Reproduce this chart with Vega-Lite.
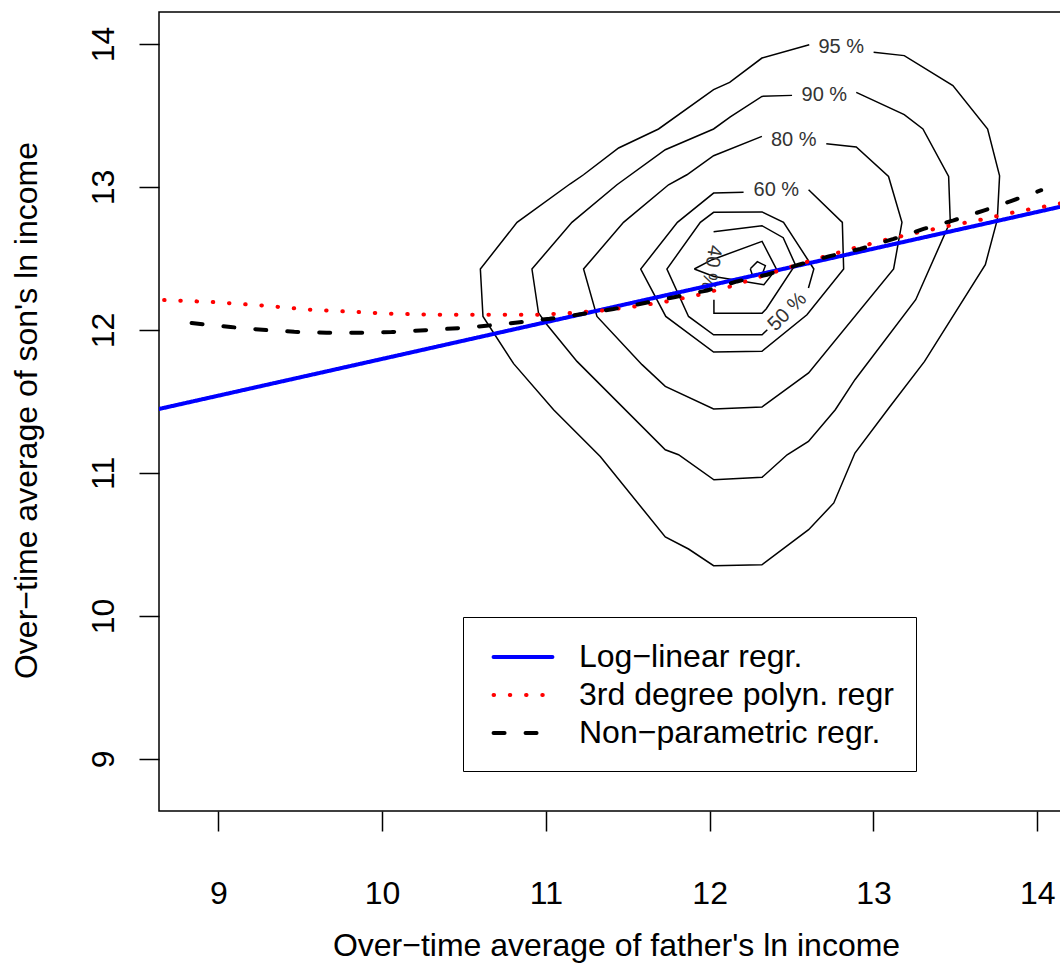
{
  "$schema": "https://vega.github.io/schema/vega-lite/v6.json",
  "width": 902,
  "height": 799,
  "autosize": {"type": "none"},
  "padding": {"left": 159, "top": 12, "right": 0, "bottom": 154},
  "background": "white",
  "config": {
    "view": {"stroke": "black", "strokeWidth": 1.5},
    "font": "Liberation Sans",
    "axis": {
      "grid": false, "domain": false, "ticks": true,
      "tickColor": "black", "tickWidth": 1.5, "tickSize": 20,
      "labelFont": "Liberation Sans", "labelFontSize": 32, "labelColor": "black",
      "titleFont": "Liberation Sans", "titleFontSize": 32, "titleFontWeight": "normal", "titleColor": "black",
      "labelOverlap": false, "labelFlush": false
    }
  },
  "datasets": {
    "contours": [
      {"seg": "c95", "o": 1, "x": 13.001, "y": 13.941},
      {"seg": "c95", "o": 2, "x": 13.188, "y": 13.918},
      {"seg": "c95", "o": 3, "x": 13.485, "y": 13.708},
      {"seg": "c95", "o": 4, "x": 13.697, "y": 13.405},
      {"seg": "c95", "o": 5, "x": 13.770, "y": 13.078},
      {"seg": "c95", "o": 6, "x": 13.756, "y": 12.771},
      {"seg": "c95", "o": 7, "x": 13.683, "y": 12.456},
      {"seg": "c95", "o": 8, "x": 13.312, "y": 11.780},
      {"seg": "c95", "o": 9, "x": 13.094, "y": 11.454},
      {"seg": "c95", "o": 10, "x": 12.887, "y": 11.139},
      {"seg": "c95", "o": 11, "x": 12.758, "y": 10.790},
      {"seg": "c95", "o": 12, "x": 12.604, "y": 10.603},
      {"seg": "c95", "o": 13, "x": 12.319, "y": 10.358},
      {"seg": "c95", "o": 14, "x": 12.024, "y": 10.351},
      {"seg": "c95", "o": 15, "x": 11.871, "y": 10.468},
      {"seg": "c95", "o": 16, "x": 11.729, "y": 10.552},
      {"seg": "c95", "o": 17, "x": 11.332, "y": 11.115},
      {"seg": "c95", "o": 18, "x": 11.047, "y": 11.442},
      {"seg": "c95", "o": 19, "x": 10.803, "y": 11.764},
      {"seg": "c95", "o": 20, "x": 10.616, "y": 12.094},
      {"seg": "c95", "o": 21, "x": 10.600, "y": 12.426},
      {"seg": "c95", "o": 22, "x": 10.824, "y": 12.752},
      {"seg": "c95", "o": 23, "x": 11.149, "y": 13.022},
      {"seg": "c95", "o": 24, "x": 11.230, "y": 13.085},
      {"seg": "c95", "o": 25, "x": 11.444, "y": 13.272},
      {"seg": "c95", "o": 26, "x": 11.688, "y": 13.405},
      {"seg": "c95", "o": 27, "x": 12.024, "y": 13.680},
      {"seg": "c95", "o": 28, "x": 12.122, "y": 13.731},
      {"seg": "c95", "o": 29, "x": 12.319, "y": 13.901},
      {"seg": "c95", "o": 30, "x": 12.608, "y": 13.994},

      {"seg": "c90", "o": 1, "x": 12.895, "y": 13.661},
      {"seg": "c90", "o": 2, "x": 13.188, "y": 13.505},
      {"seg": "c90", "o": 3, "x": 13.302, "y": 13.405},
      {"seg": "c90", "o": 4, "x": 13.459, "y": 13.073},
      {"seg": "c90", "o": 5, "x": 13.469, "y": 12.757},
      {"seg": "c90", "o": 6, "x": 13.258, "y": 12.211},
      {"seg": "c90", "o": 7, "x": 12.887, "y": 11.652},
      {"seg": "c90", "o": 8, "x": 12.767, "y": 11.442},
      {"seg": "c90", "o": 9, "x": 12.603, "y": 11.220},
      {"seg": "c90", "o": 10, "x": 12.473, "y": 11.127},
      {"seg": "c90", "o": 11, "x": 12.320, "y": 10.969},
      {"seg": "c90", "o": 12, "x": 12.026, "y": 10.952},
      {"seg": "c90", "o": 13, "x": 11.810, "y": 11.127},
      {"seg": "c90", "o": 14, "x": 11.729, "y": 11.162},
      {"seg": "c90", "o": 15, "x": 11.190, "y": 11.780},
      {"seg": "c90", "o": 16, "x": 11.007, "y": 12.036},
      {"seg": "c90", "o": 17, "x": 10.955, "y": 12.118},
      {"seg": "c90", "o": 18, "x": 10.915, "y": 12.426},
      {"seg": "c90", "o": 19, "x": 11.159, "y": 12.752},
      {"seg": "c90", "o": 20, "x": 11.434, "y": 13.015},
      {"seg": "c90", "o": 21, "x": 11.729, "y": 13.260},
      {"seg": "c90", "o": 22, "x": 12.024, "y": 13.405},
      {"seg": "c90", "o": 23, "x": 12.126, "y": 13.489},
      {"seg": "c90", "o": 24, "x": 12.319, "y": 13.633},
      {"seg": "c90", "o": 25, "x": 12.503, "y": 13.640},

      {"seg": "c80", "o": 1, "x": 12.712, "y": 13.302},
      {"seg": "c80", "o": 2, "x": 12.895, "y": 13.279},
      {"seg": "c80", "o": 3, "x": 13.092, "y": 13.073},
      {"seg": "c80", "o": 4, "x": 13.174, "y": 12.752},
      {"seg": "c80", "o": 5, "x": 13.123, "y": 12.426},
      {"seg": "c80", "o": 6, "x": 12.604, "y": 11.699},
      {"seg": "c80", "o": 7, "x": 12.319, "y": 11.461},
      {"seg": "c80", "o": 8, "x": 12.024, "y": 11.447},
      {"seg": "c80", "o": 9, "x": 11.729, "y": 11.605},
      {"seg": "c80", "o": 10, "x": 11.587, "y": 11.757},
      {"seg": "c80", "o": 11, "x": 11.312, "y": 12.094},
      {"seg": "c80", "o": 12, "x": 11.230, "y": 12.426},
      {"seg": "c80", "o": 13, "x": 11.474, "y": 12.752},
      {"seg": "c80", "o": 14, "x": 11.749, "y": 13.015},
      {"seg": "c80", "o": 15, "x": 11.861, "y": 13.085},
      {"seg": "c80", "o": 16, "x": 12.024, "y": 13.218},
      {"seg": "c80", "o": 17, "x": 12.319, "y": 13.353},

      {"seg": "c60", "o": 1, "x": 12.604, "y": 12.980},
      {"seg": "c60", "o": 2, "x": 12.810, "y": 12.752},
      {"seg": "c60", "o": 3, "x": 12.818, "y": 12.426},
      {"seg": "c60", "o": 4, "x": 12.594, "y": 12.106},
      {"seg": "c60", "o": 5, "x": 12.319, "y": 11.850},
      {"seg": "c60", "o": 6, "x": 12.024, "y": 11.845},
      {"seg": "c60", "o": 7, "x": 11.732, "y": 12.094},
      {"seg": "c60", "o": 8, "x": 11.579, "y": 12.426},
      {"seg": "c60", "o": 9, "x": 11.803, "y": 12.752},
      {"seg": "c60", "o": 10, "x": 12.024, "y": 12.957},
      {"seg": "c60", "o": 11, "x": 12.207, "y": 12.962},

      {"seg": "c50", "o": 1, "x": 12.603, "y": 12.293},
      {"seg": "c50", "o": 2, "x": 12.636, "y": 12.426},
      {"seg": "c50", "o": 3, "x": 12.451, "y": 12.752},
      {"seg": "c50", "o": 4, "x": 12.320, "y": 12.825},
      {"seg": "c50", "o": 5, "x": 12.024, "y": 12.822},
      {"seg": "c50", "o": 6, "x": 11.943, "y": 12.752},
      {"seg": "c50", "o": 7, "x": 11.739, "y": 12.426},
      {"seg": "c50", "o": 8, "x": 11.871, "y": 12.094},
      {"seg": "c50", "o": 9, "x": 12.024, "y": 11.966},
      {"seg": "c50", "o": 10, "x": 12.320, "y": 11.966},
      {"seg": "c50", "o": 11, "x": 12.352, "y": 12.001},

      {"seg": "c40", "o": 1, "x": 12.026, "y": 12.211},
      {"seg": "c40", "o": 2, "x": 12.026, "y": 12.117},
      {"seg": "c40", "o": 3, "x": 12.320, "y": 12.117},
      {"seg": "c40", "o": 4, "x": 12.346, "y": 12.148},
      {"seg": "c40", "o": 5, "x": 12.523, "y": 12.456},
      {"seg": "c40", "o": 6, "x": 12.449, "y": 12.645},
      {"seg": "c40", "o": 7, "x": 12.319, "y": 12.729},
      {"seg": "c40", "o": 8, "x": 12.024, "y": 12.687},

      {"seg": "c30", "o": 1, "x": 11.906, "y": 12.426},
      {"seg": "c30", "o": 2, "x": 12.015, "y": 12.491},
      {"seg": "c30", "o": 3, "x": 12.320, "y": 12.619},
      {"seg": "c30", "o": 4, "x": 12.407, "y": 12.426},
      {"seg": "c30", "o": 5, "x": 12.331, "y": 12.316},
      {"seg": "c30", "o": 6, "x": 12.026, "y": 12.374},
      {"seg": "c30", "o": 7, "x": 11.906, "y": 12.426},

      {"seg": "c10", "o": 1, "x": 12.248, "y": 12.428},
      {"seg": "c10", "o": 2, "x": 12.291, "y": 12.477},
      {"seg": "c10", "o": 3, "x": 12.340, "y": 12.449},
      {"seg": "c10", "o": 4, "x": 12.322, "y": 12.393},
      {"seg": "c10", "o": 5, "x": 12.260, "y": 12.386},
      {"seg": "c10", "o": 6, "x": 12.248, "y": 12.428}
    ],
    "labels": [
      {"label": "95 %", "x": 12.803, "y": 13.980},
      {"label": "90 %", "x": 12.700, "y": 13.645},
      {"label": "80 %", "x": 12.513, "y": 13.330},
      {"label": "60 %", "x": 12.407, "y": 12.980},
      {"label": "50 %", "x": 12.474, "y": 12.127},
      {"label": "40 %", "x": 12.010, "y": 12.435}
    ],
    "fits": [
      {"model": "Log−linear regr.", "x": 8.638, "y": 11.447},
      {"model": "Log−linear regr.", "x": 14.145, "y": 12.862},

      {"model": "3rd degree polyn. regr", "x": 8.669, "y": 12.209},
      {"model": "3rd degree polyn. regr", "x": 8.965, "y": 12.195},
      {"model": "3rd degree polyn. regr", "x": 9.264, "y": 12.171},
      {"model": "3rd degree polyn. regr", "x": 9.560, "y": 12.141},
      {"model": "3rd degree polyn. regr", "x": 9.857, "y": 12.125},
      {"model": "3rd degree polyn. regr", "x": 10.056, "y": 12.113},
      {"model": "3rd degree polyn. regr", "x": 10.355, "y": 12.106},
      {"model": "3rd degree polyn. regr", "x": 10.653, "y": 12.106},
      {"model": "3rd degree polyn. regr", "x": 10.949, "y": 12.106},
      {"model": "3rd degree polyn. regr", "x": 11.149, "y": 12.118},
      {"model": "3rd degree polyn. regr", "x": 11.346, "y": 12.136},
      {"model": "3rd degree polyn. regr", "x": 11.546, "y": 12.164},
      {"model": "3rd degree polyn. regr", "x": 11.739, "y": 12.199},
      {"model": "3rd degree polyn. regr", "x": 11.935, "y": 12.246},
      {"model": "3rd degree polyn. regr", "x": 12.126, "y": 12.304},
      {"model": "3rd degree polyn. regr", "x": 12.313, "y": 12.374},
      {"model": "3rd degree polyn. regr", "x": 12.503, "y": 12.444},
      {"model": "3rd degree polyn. regr", "x": 12.692, "y": 12.510},
      {"model": "3rd degree polyn. regr", "x": 12.885, "y": 12.573},
      {"model": "3rd degree polyn. regr", "x": 13.078, "y": 12.631},
      {"model": "3rd degree polyn. regr", "x": 13.267, "y": 12.680},
      {"model": "3rd degree polyn. regr", "x": 13.465, "y": 12.729},
      {"model": "3rd degree polyn. regr", "x": 13.658, "y": 12.771},
      {"model": "3rd degree polyn. regr", "x": 13.857, "y": 12.822},
      {"model": "3rd degree polyn. regr", "x": 14.145, "y": 12.885},

      {"model": "Non−parametric regr.", "x": 8.837, "y": 12.048},
      {"model": "Non−parametric regr.", "x": 9.075, "y": 12.020},
      {"model": "Non−parametric regr.", "x": 9.270, "y": 12.001},
      {"model": "Non−parametric regr.", "x": 9.464, "y": 11.987},
      {"model": "Non−parametric regr.", "x": 9.661, "y": 11.980},
      {"model": "Non−parametric regr.", "x": 9.855, "y": 11.980},
      {"model": "Non−parametric regr.", "x": 10.058, "y": 11.985},
      {"model": "Non−parametric regr.", "x": 10.264, "y": 11.998},
      {"model": "Non−parametric regr.", "x": 10.477, "y": 12.013},
      {"model": "Non−parametric regr.", "x": 10.636, "y": 12.029},
      {"model": "Non−parametric regr.", "x": 10.827, "y": 12.052},
      {"model": "Non−parametric regr.", "x": 11.023, "y": 12.078},
      {"model": "Non−parametric regr.", "x": 11.220, "y": 12.111},
      {"model": "Non−parametric regr.", "x": 11.413, "y": 12.146},
      {"model": "Non−parametric regr.", "x": 11.603, "y": 12.188},
      {"model": "Non−parametric regr.", "x": 11.790, "y": 12.230},
      {"model": "Non−parametric regr.", "x": 11.984, "y": 12.276},
      {"model": "Non−parametric regr.", "x": 12.167, "y": 12.339},
      {"model": "Non−parametric regr.", "x": 12.350, "y": 12.386},
      {"model": "Non−parametric regr.", "x": 12.543, "y": 12.456},
      {"model": "Non−parametric regr.", "x": 12.726, "y": 12.514},
      {"model": "Non−parametric regr.", "x": 12.919, "y": 12.566},
      {"model": "Non−parametric regr.", "x": 13.123, "y": 12.636},
      {"model": "Non−parametric regr.", "x": 13.306, "y": 12.706},
      {"model": "Non−parametric regr.", "x": 13.489, "y": 12.766},
      {"model": "Non−parametric regr.", "x": 13.677, "y": 12.836},
      {"model": "Non−parametric regr.", "x": 13.835, "y": 12.899},
      {"model": "Non−parametric regr.", "x": 14.024, "y": 12.977}
    ]
  },
  "layer": [
    {
      "data": {"name": "contours"},
      "mark": {"type": "line", "color": "black", "strokeWidth": 1.5, "clip": true},
      "encoding": {
        "x": {
          "field": "x", "type": "quantitative",
          "scale": {"domain": [8.638, 14.145], "nice": false, "zero": false},
          "axis": {
            "orient": "bottom", "values": [9, 10, 11, 12, 13, 14], "format": "d",
            "labelPadding": 47, "labelBaseline": "top",
            "title": "Over−time average of father's ln income",
            "titleX": 457, "titleY": 144, "titleAlign": "center", "titleBaseline": "alphabetic"
          }
        },
        "y": {
          "field": "y", "type": "quantitative",
          "scale": {"domain": [8.636, 14.223], "nice": false, "zero": false},
          "axis": {
            "orient": "left", "values": [9, 10, 11, 12, 13, 14], "format": "d",
            "labelAngle": 270, "labelAlign": "center", "labelBaseline": "alphabetic", "labelPadding": 26,
            "title": "Over−time average of son's ln income",
            "titleX": -123, "titleY": 398, "titleAngle": 270, "titleAlign": "center", "titleBaseline": "alphabetic"
          }
        },
        "detail": {"field": "seg", "type": "nominal"},
        "order": {"field": "o", "type": "quantitative"}
      }
    },
    {
      "data": {"name": "labels"},
      "transform": [{"filter": "datum.label != '50 %' && datum.label != '40 %'"}],
      "mark": {"type": "text", "font": "Liberation Sans", "fontSize": 20, "color": "#333333", "align": "center", "baseline": "middle"},
      "encoding": {
        "x": {"field": "x", "type": "quantitative"},
        "y": {"field": "y", "type": "quantitative"},
        "text": {"field": "label", "type": "nominal"}
      }
    },
    {
      "data": {"name": "labels"},
      "transform": [{"filter": "datum.label == '50 %'"}],
      "mark": {"type": "text", "font": "Liberation Sans", "fontSize": 20, "color": "#333333", "align": "center", "baseline": "middle", "angle": 315},
      "encoding": {
        "x": {"field": "x", "type": "quantitative"},
        "y": {"field": "y", "type": "quantitative"},
        "text": {"field": "label", "type": "nominal"}
      }
    },
    {
      "data": {"name": "labels"},
      "transform": [{"filter": "datum.label == '40 %'"}],
      "mark": {"type": "text", "font": "Liberation Sans", "fontSize": 20, "color": "#333333", "align": "center", "baseline": "middle", "angle": 100},
      "encoding": {
        "x": {"field": "x", "type": "quantitative"},
        "y": {"field": "y", "type": "quantitative"},
        "text": {"field": "label", "type": "nominal"}
      }
    },
    {
      "data": {"name": "fits"},
      "mark": {"type": "line", "strokeWidth": 4, "strokeCap": "round", "clip": true},
      "encoding": {
        "x": {"field": "x", "type": "quantitative"},
        "y": {"field": "y", "type": "quantitative"},
        "color": {
          "field": "model", "type": "nominal",
          "scale": {"domain": ["Log−linear regr.", "3rd degree polyn. regr", "Non−parametric regr."], "range": ["#0000FF", "#FF0000", "#000000"]},
          "legend": {
            "title": null, "orient": "none", "legendX": 304, "legendY": 605, "direction": "vertical",
            "padding": 22, "strokeColor": "black", "fillColor": "white",
            "symbolType": "M-1.84,0H1.84", "symbolSize": 1024, "symbolStrokeWidth": 4, "symbolOffset": 20,
            "labelFont": "Liberation Sans", "labelFontSize": 32, "labelColor": "black", "labelOffset": 38, "labelLimit": 0,
            "rowPadding": 4,
            "encode": {"symbols": {"update": {"strokeCap": {"value": "round"}, "fill": {"value": "transparent"}}}}
          }
        },
        "strokeDash": {
          "field": "model", "type": "nominal",
          "scale": {"domain": ["Log−linear regr.", "3rd degree polyn. regr", "Non−parametric regr."], "range": [[1, 0], [0.5, 15.74], [11, 21]]},
          "legend": {
            "title": null, "orient": "none", "legendX": 304, "legendY": 605, "direction": "vertical",
            "padding": 22, "strokeColor": "black", "fillColor": "white",
            "symbolType": "M-1.84,0H1.84", "symbolSize": 1024, "symbolStrokeWidth": 4, "symbolOffset": 20,
            "labelFont": "Liberation Sans", "labelFontSize": 32, "labelColor": "black", "labelOffset": 38, "labelLimit": 0,
            "rowPadding": 4,
            "encode": {"symbols": {"update": {"strokeCap": {"value": "round"}, "fill": {"value": "transparent"}}}}
          }
        }
      }
    }
  ]
}
